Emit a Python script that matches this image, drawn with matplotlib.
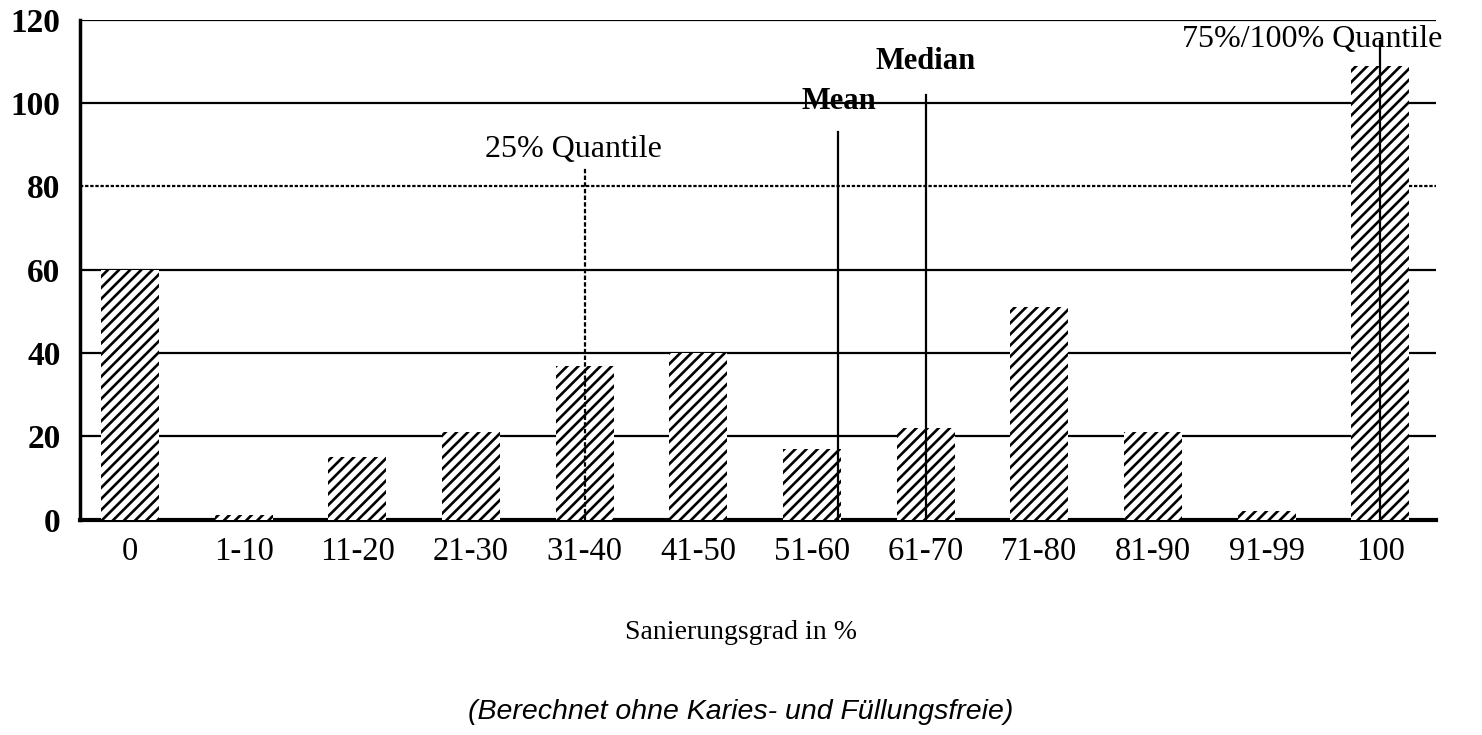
import matplotlib.pyplot as plt
import numpy as np

plt.rcParams["hatch.linewidth"] = 1.9
plt.rcParams["font.family"] = ["Liberation Serif", "DejaVu Serif"]

CATEGORIES = ["0", "1-10", "11-20", "21-30", "31-40", "41-50", "51-60",
              "61-70", "71-80", "81-90", "91-99", "100"]
COUNTS = [60, 1, 15, 21, 37, 40, 17, 22, 51, 21, 2, 109]

# markers: label, x position (category units), line height
MARKER_LABELS = ["25% Quantile", "Mean", "Median", "75%/100% Quantile"]
MARKER_X = [4.0, 6.23, 7.0, 11.0]
MARKER_TOP = [84.5, 93, 102, 115]


def main():
    fig = plt.figure(figsize=(14.82, 7.35), dpi=100)
    ax = fig.add_axes([0.054, 0.293, 0.915, 0.68])

    x = np.arange(len(CATEGORIES))
    ax.bar(x, COUNTS, 0.51, color="white", edgecolor="black",
           hatch="///", linewidth=0, zorder=3)

    for yv in [20, 40, 60, 100, 120]:
        ax.axhline(yv, color="black", linewidth=1.6, zorder=1)
    ax.axhline(80, color="black", linewidth=1.6, linestyle=(0, (1.5, 0.8)), zorder=1)

    styles = [(0, (2, 1)), "-", "-", "-"]
    for xm, top, ls in zip(MARKER_X, MARKER_TOP, styles):
        ax.plot([xm, xm], [0, top], color="black", linewidth=1.6,
                linestyle=ls, zorder=4)

    ax.text(3.90, 88.8, MARKER_LABELS[0], ha="center", va="center", fontsize=23)
    ax.text(6.24, 100.3, MARKER_LABELS[1], ha="center", va="center",
            fontsize=22, fontweight="bold", zorder=5)
    ax.text(7.0, 109.9, MARKER_LABELS[2], ha="center", va="center",
            fontsize=22, fontweight="bold")
    ax.text(10.40, 115.2, MARKER_LABELS[3], ha="center", va="center", fontsize=23)

    ax.set_xlim(-0.44, 11.49)
    ax.set_ylim(0, 120)
    ax.set_yticks(np.arange(0, 121, 20))
    ax.set_yticklabels([str(v) for v in range(0, 121, 20)],
                       fontsize=24, fontweight="bold")
    ax.set_xticks(x)
    ax.set_xticklabels(CATEGORIES, fontsize=23.5)
    ax.tick_params(axis="both", length=0)
    ax.tick_params(axis="x", pad=12)
    ax.tick_params(axis="y", pad=14)

    ax.spines["top"].set_visible(False)
    ax.spines["right"].set_visible(False)
    ax.spines["left"].set_linewidth(2.5)
    ax.spines["bottom"].set_linewidth(3)

    fig.text(0.5, 0.140, "Sanierungsgrad in %", ha="center", va="center",
             fontsize=20)
    fig.text(0.5, 0.031, "(Berechnet ohne Karies- und Füllungsfreie)",
             ha="center", va="center", fontsize=20.5, style="italic",
             family=["Liberation Sans", "DejaVu Sans"])

    fig.savefig("out.png", dpi=100)
    plt.close(fig)


if __name__ == "__main__":
    main()
